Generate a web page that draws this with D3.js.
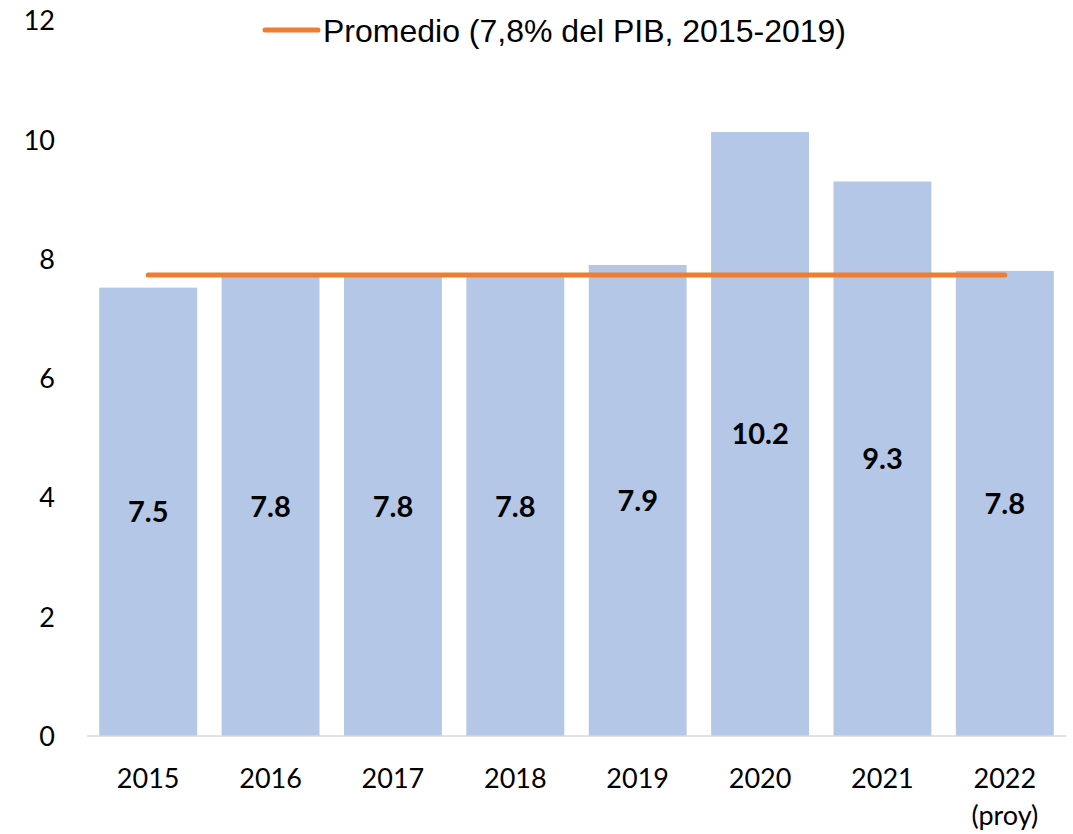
<!DOCTYPE html>
<html><head><meta charset="utf-8">
<script src="https://cdn.jsdelivr.net/npm/d3@7"></script>
<style>body{margin:0;background:#fff}svg{display:block}</style>
</head><body>
<svg id="c" width="1073" height="834"></svg>
<script>
const categories = ["2015","2016","2017","2018","2019","2020","2021","2022\n(proy)"];
const values = [7.52, 7.70, 7.70, 7.70, 7.90, 10.13, 9.30, 7.80];
const valueLabels = ["7.5","7.8","7.8","7.8","7.9","10.2","9.3","7.8"];
const averageValue = 7.73;
const legendLabel = "Promedio (7,8% del PIB, 2015-2019)";
const yTicks = [0,2,4,6,8,10,12];

const svg = d3.select("#c");
const x = d3.scaleBand().domain(categories).range([87,1066]).paddingInner(0.2).paddingOuter(0.1);
const y = d3.scaleLinear().domain([0,12]).range([736,20.5]);

// bars
svg.append("g").selectAll("rect").data(values).join("rect")
  .attr("x",(d,i)=>x(categories[i])).attr("width",x.bandwidth())
  .attr("y",d=>y(d)).attr("height",d=>y(0)-y(d)).attr("fill","#b4c7e7");

// baseline
svg.append("line").attr("x1",87).attr("x2",1066).attr("y1",y(0)).attr("y2",y(0))
  .attr("stroke","#d9d9d9").attr("stroke-width",1.5);

// y axis
const yAxis = svg.append("g").attr("transform","translate(55,0)")
  .call(d3.axisLeft(y).tickValues(yTicks).tickSize(0).tickPadding(0).tickFormat(d3.format("d")));
yAxis.select(".domain").remove();
yAxis.selectAll("text").attr("font-family","Lato").attr("font-size",27).attr("fill","#000")
  .attr("dy","0.35em");

// x axis labels
const xl = svg.append("g").selectAll("text").data(categories).join("text")
  .attr("x",d=>x(d)+x.bandwidth()/2).attr("y",788)
  .attr("text-anchor","middle").attr("font-family","Lato").attr("font-size",27).attr("fill","#000");
xl.each(function(d){
  const lines = d.split("\n");
  const t = d3.select(this);
  lines.forEach((l,i)=>t.append("tspan").attr("x",x(d)+x.bandwidth()/2).attr("dy",i?37:0).text(l));
});

// value labels
svg.append("g").selectAll("text").data(values).join("text")
  .attr("x",(d,i)=>x(categories[i])+x.bandwidth()/2)
  .attr("y",d=>(y(0)+y(d))/2).attr("dy","0.36em")
  .attr("text-anchor","middle").attr("font-family","Lato").attr("font-weight","bold")
  .attr("font-size",29).attr("fill","#000").text((d,i)=>valueLabels[i]);

// average line
const x0 = x(categories[0])+x.bandwidth()/2, x1 = x(categories[categories.length-1])+x.bandwidth()/2;
svg.append("line").attr("x1",x0).attr("x2",x1).attr("y1",y(averageValue)).attr("y2",y(averageValue))
  .attr("stroke","#ed7d31").attr("stroke-width",5).attr("stroke-linecap","round");

// legend
svg.append("line").attr("x1",265).attr("x2",318).attr("y1",30).attr("y2",30)
  .attr("stroke","#ed7d31").attr("stroke-width",5).attr("stroke-linecap","round");
svg.append("text").attr("x",323).attr("y",42).attr("font-family","Liberation Sans, Arial")
  .attr("font-size",32).attr("fill","#000").text(legendLabel);
</script>
</body></html>
